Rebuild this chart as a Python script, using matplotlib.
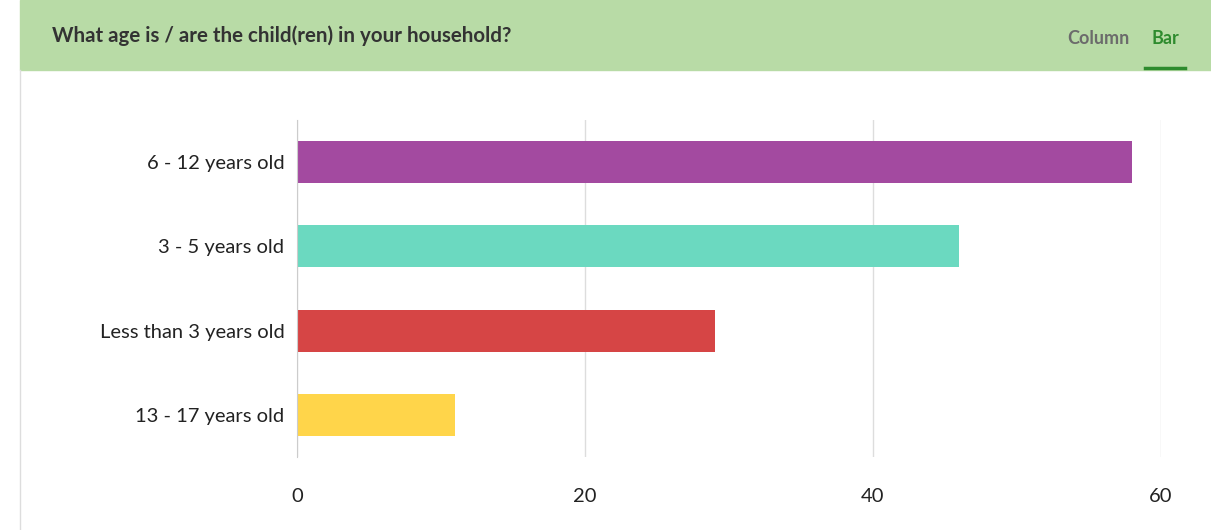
import matplotlib.pyplot as plt
from matplotlib.patches import Rectangle
from matplotlib.lines import Line2D

categories = ['6 - 12 years old', '3 - 5 years old', 'Less than 3 years old', '13 - 17 years old']
counts = [58, 46, 29, 11]
bar_colors = ['#a34aa0', '#6bd9c0', '#d64545', '#ffd54a']
x_ticks = [0, 20, 40, 60]

title = 'What age is / are the child(ren) in your household?'

plt.rcParams['font.family'] = ['Lato', 'DejaVu Sans']

fig = plt.figure(figsize=(12.11, 5.30), dpi=100)
W, H = 1211, 530

# header band
fig.add_artist(Rectangle((20 / W, 1 - 70 / H), 1 - 20 / W, 70 / H,
                         transform=fig.transFigure, color='#b8dba6', zorder=0))
fig.text(52 / W, 1 - 36 / H, title, fontsize=14.8, fontweight='bold',
         color='#333333', va='center', ha='left')
fig.text(1098 / W, 1 - 38 / H, 'Column', fontsize=13, fontweight='bold',
         color='#6b6b6b', va='center', ha='center')
fig.text(1165 / W, 1 - 38 / H, 'Bar', fontsize=13, fontweight='bold',
         color='#2e8b2e', va='center', ha='center')
fig.add_artist(Line2D([1145 / W, 1185 / W], [1 - 67.5 / H, 1 - 67.5 / H],
                      transform=fig.transFigure, color='#2e8b2e', lw=2.5))
# left border of the card
fig.add_artist(Line2D([20 / W, 20 / W], [0, 1 - 70 / H],
                      transform=fig.transFigure, color='#dddddd', lw=1))

ax = fig.add_axes([297 / W, 1 - 457 / H, 864 / W, 337 / H])
y = list(range(len(categories)))
ax.barh(y, counts, height=0.5, color=bar_colors, zorder=3)
ax.set_ylim(len(categories) - 0.5, -0.5)
ax.set_xlim(0, 60)
ax.set_yticks(y)
ax.set_yticklabels(categories)
ax.set_xticks(x_ticks)
ax.tick_params(axis='both', length=0, labelsize=14.5, colors='#222222')
ax.tick_params(axis='x', pad=22)
ax.tick_params(axis='y', pad=9)
ax.grid(axis='x', color='#dddddd', lw=1, zorder=0)
for s in ['top', 'right', 'bottom']:
    ax.spines[s].set_visible(False)
ax.spines['left'].set_color('#cccccc')
ax.spines['left'].set_zorder(4)

fig.savefig('out.png', dpi=100, facecolor='white')
